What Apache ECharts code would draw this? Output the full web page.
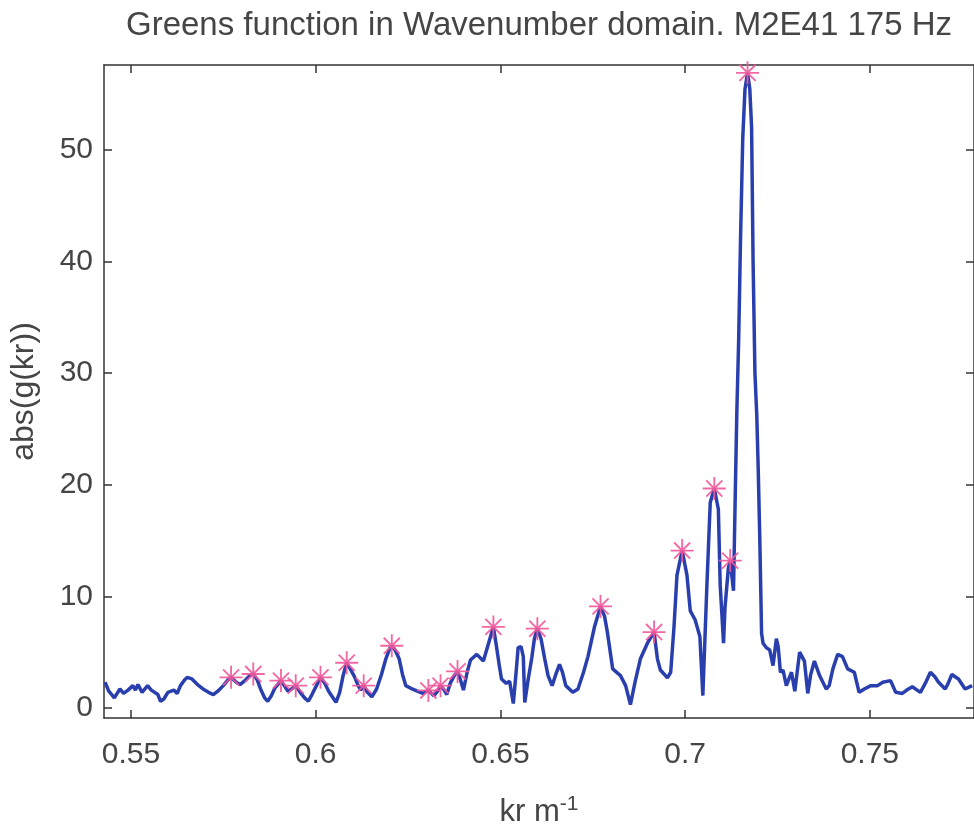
<!DOCTYPE html>
<html>
<head>
<meta charset="utf-8">
<script src="https://cdn.jsdelivr.net/npm/echarts@6/dist/echarts.min.js"></script>
<style>html,body{margin:0;padding:0;background:#fff}#c{width:974px;height:838px}</style>
</head>
<body>
<div id="c"></div>
<script>
const titleText = 'Greens function in Wavenumber domain. M2E41 175 Hz';
const xTicks = [0.55, 0.6, 0.65, 0.7, 0.75];
const yTicks = [0, 10, 20, 30, 40, 50];

const kr = [
0.5430,0.5440,0.5455,0.5470,0.5480,0.5492,0.5505,0.5512,0.5519,0.5530,
0.5545,0.5555,0.5573,0.5580,0.5589,0.5600,0.5616,0.5625,0.5634,0.5645,
0.5652,0.5665,0.5680,0.5695,0.5710,0.5723,0.5735,0.5750,0.5762,0.5771,
0.5785,0.5795,0.5810,0.5822,0.5831,0.5842,0.5852,0.5862,0.5870,0.5880,
0.5890,0.5906,0.5915,0.5925,0.5935,0.5946,0.5958,0.5970,0.5980,0.5990,
0.6002,0.6013,0.6025,0.6035,0.6045,0.6055,0.6065,0.6075,0.6084,0.6095,
0.6105,0.6115,0.6122,0.6130,0.6140,0.6152,0.6165,0.6178,0.6190,0.6200,
0.6206,0.6215,0.6226,0.6235,0.6244,0.6261,0.6275,0.6290,0.6305,0.6320,
0.6330,0.6338,0.6348,0.6355,0.6364,0.6375,0.6384,0.6392,0.6400,0.6410,
0.6419,0.6436,0.6454,0.6468,0.6481,0.6489,0.6497,0.6503,0.6516,0.6525,
0.6535,0.6542,0.6548,0.6556,0.6562,0.6566,0.6575,0.6585,0.6592,0.6600,
0.6610,0.6620,0.6629,0.6640,0.6650,0.6660,0.6668,0.6677,0.6696,0.6710,
0.6725,0.6737,0.6755,0.6771,0.6782,0.6790,0.6804,0.6825,0.6839,0.6852,
0.6865,0.6879,0.6898,0.6916,0.6925,0.6933,0.6944,0.6952,0.6961,0.6970,
0.6978,0.6992,0.7005,0.7014,0.7027,0.7040,0.7048,0.7059,0.7068,0.7079,
0.7090,0.7095,0.7104,0.7108,0.7117,0.7122,0.7131,0.7135,0.7140,0.7145,
0.7150,0.7156,0.7162,0.7169,0.7175,0.7180,0.7184,0.7189,0.7194,0.7198,
0.7202,0.7207,0.7211,0.7220,0.7229,0.7238,0.7247,0.7252,0.7258,0.7265,
0.7274,0.7288,0.7297,0.7310,0.7323,0.7332,0.7340,0.7350,0.7364,0.7382,
0.7390,0.7400,0.7413,0.7426,0.7440,0.7458,0.7471,0.7485,0.7503,0.7521,
0.7535,0.7556,0.7570,0.7588,0.7600,0.7615,0.7637,0.7650,0.7664,0.7676,
0.7686,0.7704,0.7712,0.7722,0.7740,0.7758,0.7777
];
const g = [
2.3,1.5,0.9,1.7,1.3,1.6,2.0,1.6,2.1,1.4,
2.0,1.6,1.2,0.6,0.8,1.4,1.6,1.3,2.0,2.5,
2.74,2.6,2.1,1.7,1.4,1.2,1.5,2.0,2.5,2.74,
2.3,2.1,2.5,2.9,3.04,2.5,1.6,0.9,0.6,1.1,
1.8,2.45,2.0,1.5,1.7,2.0,1.4,0.9,0.6,1.2,
2.0,2.74,2.2,1.5,1.0,0.5,1.4,3.0,4.05,3.4,
2.8,2.0,1.6,2.0,1.4,1.0,1.7,3.0,4.4,5.3,
5.57,5.2,4.4,3.0,2.0,1.7,1.5,1.3,1.57,1.1,
1.5,2.0,1.6,1.2,2.2,2.9,3.27,2.5,1.6,3.2,
4.3,4.8,4.2,5.8,7.26,5.6,3.8,2.6,2.2,2.4,
0.4,3.0,5.4,5.5,4.6,0.5,2.5,4.5,6.2,7.1,
6.2,4.4,2.9,2.0,3.0,3.9,3.2,2.0,1.4,1.7,
3.2,4.6,7.3,9.1,8.2,6.7,3.5,2.9,2.0,0.3,
2.4,4.4,5.8,6.8,4.4,3.4,3.0,2.7,3.2,7.3,
11.9,14.1,11.9,8.7,7.9,6.4,1.1,11.0,18.4,19.66,
17.8,11.0,5.8,9.0,12.5,13.2,10.5,17.8,26.5,33,
42,51,55.4,56.9,55.5,52,40,30,26.2,21.3,
15.4,6.7,5.8,5.4,5.2,3.8,6.2,5.5,3.2,3.4,
2.0,3.2,1.5,5.0,4.2,1.3,3.0,4.2,2.9,1.7,
2.0,3.5,4.8,4.6,3.5,3.2,1.4,1.7,2.0,2.0,
2.3,2.45,1.4,1.3,1.6,1.9,1.4,2.2,3.2,2.8,
2.3,1.7,2.2,3.0,2.6,1.7,2.0
];

const peakK = [0.5771,0.5831,0.5906,0.5946,0.6013,0.6084,0.6130,0.6206,0.6305,0.6338,
               0.6384,0.6481,0.6600,0.6771,0.6916,0.6992,0.7079,0.7122,0.7169];
const peakV = [2.74,3.04,2.45,2.0,2.74,4.05,2.0,5.57,1.57,2.0,
               3.27,7.26,7.1,9.1,6.8,14.1,19.66,13.2,56.9];

const lineData = kr.map((k, i) => [k, g[i]]);
const peakData = peakK.map((k, i) => [k, peakV[i]]);

const star = 'path://M-10,-0.8L10,-0.8L10,0.8L-10,0.8Z' +
  'M-0.8,-10L0.8,-10L0.8,10L-0.8,10Z' +
  'M-7.57,-6.43L-6.43,-7.57L7.57,6.43L6.43,7.57Z' +
  'M6.43,-7.57L7.57,-6.43L-6.43,7.57L-7.57,6.43Z';

const FONT = 'Liberation Sans';
const axisCol = '#333';
const textCol = '#454545';

const chart = echarts.init(document.getElementById('c'), null, {renderer: 'canvas'});
chart.setOption({
  animation: false,
  backgroundColor: '#fff',
  title: {
    text: titleText,
    left: 534,
    textAlign: 'center',
    top: 4,
    textStyle: {fontFamily: FONT, fontSize: 33, fontWeight: 'normal', color: textCol}
  },
  grid: {left: 103, top: 65, right: -5, bottom: 105, containLabel: false},
  xAxis: [{
    type: 'value', min: 0.5427, max: 0.7782,
    name: '{b|kr m}{s|-1}',
    nameLocation: 'middle', nameGap: 76,
    nameTextStyle: {
      rich: {
        b: {fontFamily: FONT, fontSize: 31, color: textCol, lineHeight: 34, verticalAlign: 'bottom'},
        s: {fontFamily: FONT, fontSize: 21, color: textCol, lineHeight: 20, verticalAlign: 'top', padding: [0, 0, 18, 0]}
      }
    },
    axisLine: {show: true, onZero: false, lineStyle: {color: axisCol, width: 1.5}},
    axisTick: {show: true, inside: true, length: 8, customValues: xTicks, lineStyle: {color: axisCol, width: 1.5}},
    axisLabel: {show: true, customValues: xTicks, margin: 22, fontFamily: FONT, fontSize: 30, color: textCol,
      formatter: v => String(+v.toFixed(2))},
    splitLine: {show: false}
  }, {
    type: 'value', min: 0.5427, max: 0.7782, position: 'top',
    axisLine: {show: true, onZero: false, lineStyle: {color: axisCol, width: 1.5}},
    axisTick: {show: true, inside: true, length: 8, customValues: xTicks, lineStyle: {color: axisCol, width: 1.5}},
    axisLabel: {show: false},
    splitLine: {show: false}
  }],
  yAxis: [{
    type: 'value', min: -0.9, max: 57.6,
    name: 'abs(g(kr))',
    nameLocation: 'middle', nameGap: 64, nameRotate: 90,
    nameTextStyle: {fontFamily: FONT, fontSize: 32, color: textCol},
    axisLine: {show: true, onZero: false, lineStyle: {color: axisCol, width: 1.5}},
    axisTick: {show: true, inside: true, length: 8, customValues: yTicks, lineStyle: {color: axisCol, width: 1.5}},
    axisLabel: {show: true, customValues: yTicks, margin: 11, fontFamily: FONT, fontSize: 30, color: textCol},
    splitLine: {show: false}
  }, {
    type: 'value', min: -0.9, max: 57.6, position: 'right',
    axisLine: {show: true, onZero: false, lineStyle: {color: axisCol, width: 1.5}},
    axisTick: {show: true, inside: true, length: 8, customValues: yTicks, lineStyle: {color: axisCol, width: 1.5}},
    axisLabel: {show: false},
    splitLine: {show: false}
  }],
  series: [{
    type: 'line',
    data: lineData,
    xAxisIndex: 0, yAxisIndex: 0,
    showSymbol: false,
    lineStyle: {color: '#2a3fae', width: 3.5},
    itemStyle: {color: '#2a3fae'},
    z: 2
  }, {
    type: 'scatter',
    data: peakData,
    xAxisIndex: 0, yAxisIndex: 0,
    symbol: star,
    symbolSize: 23,
    itemStyle: {color: '#f2589a', opacity: 0.9},
    z: 3
  }]
});
</script>
</body>
</html>
